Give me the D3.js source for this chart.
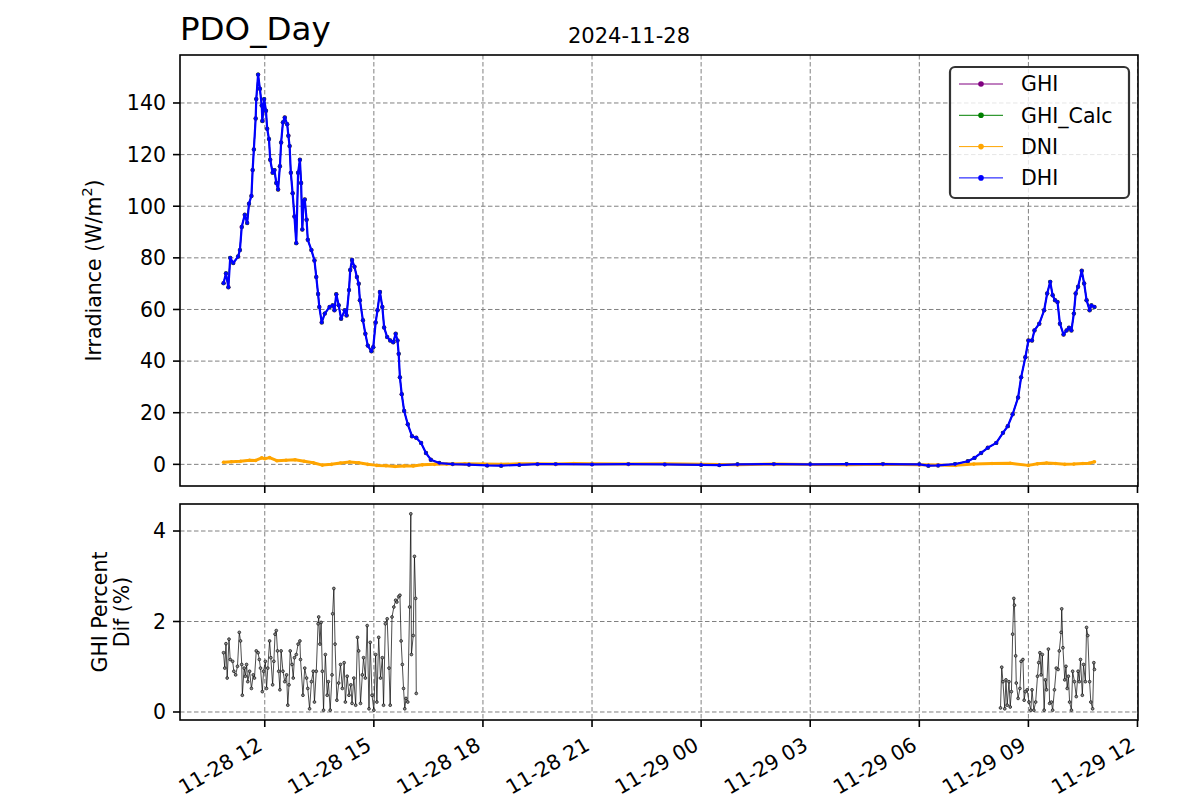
<!DOCTYPE html>
<html><head><meta charset="utf-8">
<script src="https://cdn.jsdelivr.net/npm/d3@7"></script>
<style>body{margin:0;background:#fff}svg{font-family:"DejaVu Sans",sans-serif}</style>
</head><body>
<svg id="chart" width="1200" height="800"></svg>
<script>
// ---------- DATA ----------
const chartTitle = "PDO_Day";
const chartSubtitle = "2024-11-28";
const seriesNames = ["GHI", "GHI_Calc", "DNI", "DHI"];
const topTicks = [0, 20, 40, 60, 80, 100, 120, 140];
const bottomTicks = [0, 2, 4];

// times are "day HH:MM" within 2024-11
const ghiTimes = ["28 10:52","28 10:56","28 11:00","28 11:03","28 11:08","28 11:16","28 11:19","28 11:22","28 11:27","28 11:31","28 11:34","28 11:38","28 11:40","28 11:42","28 11:45","28 11:46","28 11:49","28 11:52","28 11:55","28 11:56","28 11:59","28 12:02","28 12:04","28 12:07","28 12:09","28 12:13","28 12:16","28 12:19","28 12:22","28 12:25","28 12:27","28 12:30","28 12:33","28 12:37","28 12:39","28 12:41","28 12:43","28 12:46","28 12:49","28 12:52","28 12:55","28 12:58","28 13:00","28 13:02","28 13:04","28 13:06","28 13:09","28 13:11","28 13:17","28 13:22","28 13:25","28 13:28","28 13:30","28 13:34","28 13:39","28 13:47","28 13:52","28 13:55","28 13:58","28 14:02","28 14:06","28 14:12","28 14:15","28 14:19","28 14:21","28 14:24","28 14:28","28 14:32","28 14:35","28 14:37","28 14:42","28 14:46","28 14:50","28 14:56","28 14:59","28 15:03","28 15:06","28 15:10","28 15:14","28 15:17","28 15:22","28 15:27","28 15:32","28 15:36","28 15:39","28 15:41","28 15:43","28 15:46","28 15:50","28 15:56","28 16:03","28 16:10","28 16:18","28 16:26","28 16:34","28 16:48","28 17:10","28 17:37","28 18:07","28 18:30","28 19:00","28 19:30","28 20:00","28 21:00","28 22:00","28 23:00","29 00:00","29 00:30","29 01:00","29 02:00","29 03:00","29 04:00","29 05:00","29 06:00","29 06:15","29 06:31","29 06:59","29 07:20","29 07:31","29 07:42","29 07:53","29 08:07","29 08:18","29 08:26","29 08:34","29 08:43","29 08:48","29 08:55","29 09:00","29 09:06","29 09:10","29 09:18","29 09:26","29 09:31","29 09:36","29 09:40","29 09:44","29 09:48","29 09:52","29 09:58","29 10:03","29 10:07","29 10:11","29 10:15","29 10:18","29 10:22","29 10:28","29 10:32","29 10:36","29 10:41","29 10:44","29 10:49"];
const ghiValues = [70.2,74,68.6,80,78,80.5,83,92,96.7,93.5,101,104,114,122,134,141.5,151,145.5,139,133,141.5,137,130,126,118,113,114,109,106.5,115.5,124.7,132.5,134.4,131.8,127.3,123.3,113,105,96,85.7,113,118,109,91,102,102.6,94.8,87,83,79,72.6,66,61,55,58.4,61,61.6,59.7,65.9,61.6,56.4,59.7,57.7,67.5,75.3,79.2,76.6,72.6,70,63.6,55.8,50.6,46,43.8,45.4,55,59.7,66.8,61,53,49.3,48,47.3,50.6,48,42.8,33.7,27.2,20.7,15.5,10.9,10.3,8.3,4.4,1.8,0.5,0.1,-0.1,-0.4,-0.5,-0.2,0.1,0.1,0,0.1,0,-0.2,-0.3,0,0.1,0,0.1,0.1,0,-0.5,-0.4,0.1,1.2,2.5,4.4,6.4,8.3,12.2,14.8,19.4,25.9,33.7,41.5,48,48,51.9,54.5,59.7,66.2,70.7,65.5,63.6,62.9,54.5,50.3,51.9,52.9,51.9,58.4,66.2,68.8,75,70.1,63.6,59.7,61.6,61];
// GHI_Calc and DHI are indistinguishable from GHI at this scale
const ghiCalcValues = ghiValues;
const dhiValues = ghiValues;

const dniTimes = ["28 10:52","28 11:05","28 11:20","28 11:35","28 11:45","28 11:55","28 12:00","28 12:08","28 12:20","28 12:35","28 12:50","28 13:05","28 13:20","28 13:35","28 13:50","28 14:05","28 14:20","28 14:35","28 14:50","28 15:05","28 15:20","28 15:35","28 15:50","28 16:05","28 16:20","28 16:40","28 17:00","28 17:30","28 18:00","28 18:30","28 19:00","28 19:30","28 20:00","28 20:30","28 21:00","28 22:00","28 23:00","29 00:00","29 01:00","29 02:00","29 03:00","29 04:00","29 05:00","29 06:00","29 06:30","29 07:00","29 07:30","29 08:00","29 08:30","29 09:00","29 09:15","29 09:30","29 09:45","29 10:00","29 10:15","29 10:30","29 10:40","29 10:49"];
const dniValues = [0.8,1.0,1.2,1.6,1.5,2.5,2.2,2.6,1.4,1.6,1.8,1.2,0.6,-0.3,0.0,0.5,0.9,0.6,0.0,-0.4,-0.5,-0.8,-0.6,-0.6,-0.2,0.0,0.1,0.2,0.1,0.0,0.2,0.2,0.1,0.3,0.2,0.1,0.2,0.0,-0.2,0.1,-0.1,-0.2,0.0,-0.2,-0.3,-0.4,0.1,0.3,0.4,-0.4,0.2,0.5,0.3,0.0,0.1,0.3,0.4,1.0];

const pctPmTimes = ["28 10:52","28 10:54","28 10:56","28 10:58","28 11:01","28 11:03","28 11:07","28 11:09","28 11:12","28 11:15","28 11:18","28 11:20","28 11:22","28 11:23","28 11:26","28 11:28","28 11:30","28 11:32","28 11:35","28 11:38","28 11:41","28 11:43","28 11:46","28 11:49","28 11:51","28 11:53","28 11:56","28 11:58","28 12:01","28 12:03","28 12:05","28 12:08","28 12:10","28 12:13","28 12:15","28 12:17","28 12:19","28 12:21","28 12:23","28 12:25","28 12:27","28 12:30","28 12:33","28 12:36","28 12:38","28 12:40","28 12:42","28 12:45","28 12:47","28 12:49","28 12:52","28 12:55","28 12:58","28 12:59","28 13:03","28 13:06","28 13:09","28 13:11","28 13:14","28 13:17","28 13:20","28 13:22","28 13:25","28 13:28","28 13:29","28 13:31","28 13:33","28 13:35","28 13:37","28 13:40","28 13:43","28 13:45","28 13:48","28 13:51","28 13:52","28 13:54","28 13:56","28 13:59","28 14:02","28 14:05","28 14:08","28 14:11","28 14:13","28 14:16","28 14:19","28 14:22","28 14:24","28 14:27","28 14:30","28 14:33","28 14:35","28 14:38","28 14:41","28 14:43","28 14:46","28 14:49","28 14:52","28 14:54","28 14:57","28 15:00","28 15:03","28 15:05","28 15:08","28 15:11","28 15:14","28 15:16","28 15:19","28 15:22","28 15:25","28 15:27","28 15:30","28 15:33","28 15:36","28 15:38","28 15:41","28 15:43","28 15:45","28 15:47","28 15:49","28 15:51","28 15:53","28 15:56","28 15:59","28 16:01","28 16:02","28 16:05","28 16:07","28 16:09","28 16:10"];
const pctPmValues = [1.31,0.97,1.51,0.75,1.61,1.16,1.12,0.9,0.82,1.01,1.76,1.57,1.05,0.37,0.97,0.79,1.05,0.67,0.9,0.52,0.82,0.75,1.35,1.31,1.16,0.97,0.45,0.9,1.12,0.52,0.97,1.57,1.2,0.6,1.12,1.72,1.8,1.35,0.9,0.49,1.35,0.9,0.67,0.82,0.15,0.6,1.35,1.05,0.75,1.2,1.27,1.5,1.57,1.16,0.37,0.97,0.75,0.52,0.07,0.67,0.9,0.22,0.9,1.95,2.1,1.5,1.98,0.9,0.04,1.27,0.37,0.67,0.04,0.82,2.17,2.73,1.5,0.26,0.64,1.05,0.52,1.09,0.22,0.79,0.37,0.6,0.19,0.75,0.15,1.65,1.35,0.19,0.82,1.2,0.75,1.91,0.07,1.54,0.37,0.04,1.27,0.22,1.65,0.75,1.2,0.15,1.95,2.06,0.97,0.15,2.1,2.32,2.47,2.43,2.55,2.58,1.57,1.05,0.52,0.07,0.3,0.22,2.32,4.38,1.27,1.69,3.44,2.51,0.41];

const pctAmTimes = ["29 08:14","29 08:16","29 08:18","29 08:21","29 08:23","29 08:25","29 08:28","29 08:30","29 08:32","29 08:34","29 08:36","29 08:37","29 08:39","29 08:40","29 08:43","29 08:46","29 08:48","29 08:51","29 08:53","29 08:55","29 08:58","29 09:01","29 09:04","29 09:06","29 09:09","29 09:12","29 09:15","29 09:17","29 09:19","29 09:21","29 09:23","29 09:26","29 09:28","29 09:30","29 09:33","29 09:35","29 09:38","29 09:40","29 09:43","29 09:46","29 09:49","29 09:51","29 09:54","29 09:55","29 09:57","29 10:00","29 10:02","29 10:04","29 10:06","29 10:08","29 10:11","29 10:13","29 10:16","29 10:19","29 10:22","29 10:24","29 10:26","29 10:29","29 10:31","29 10:34","29 10:36","29 10:38","29 10:41","29 10:43","29 10:46","29 10:48","29 10:49"];
const pctAmValues = [0.09,0.99,0.67,0.07,0.71,0.15,0.67,0.11,0.45,1.72,2.51,2.36,1.24,0.64,0.3,0.52,1.12,1.16,0.26,0.45,0.49,0.22,0.04,0.49,0.04,0.22,0.79,1.09,1.31,0.82,1.27,0.04,0.71,0.49,1.39,0.19,0.22,0.04,0.49,0.97,0.94,1.35,1.76,2.28,1.42,0.71,1.01,0.52,0.79,0.22,0.04,0.9,0.67,0.34,0.9,0.67,1.16,0.37,1.05,0.67,1.87,1.69,0.67,0.22,0.07,1.09,0.94];

// ---------- STYLE ----------
const colors = {GHI:"#800080", GHI_Calc:"#008000", DNI:"#ffa500", DHI:"#0000ff"};
const FONT = 20.5;
const boxTop = {l:180, r:1138, t:55, b:486};
const boxBot = {l:180, r:1138, t:504, b:720};

const parse = d3.utcParse("%Y-%m-%d %H:%M");
const mk = (times, vals) => times.map((t, i) => ({t: parse("2024-11-" + t), v: vals[i]}));
const ghi = mk(ghiTimes, ghiValues), ghiCalc = mk(ghiTimes, ghiCalcValues),
      dhi = mk(ghiTimes, dhiValues), dni = mk(dniTimes, dniValues);
const pctPm = mk(pctPmTimes, pctPmValues), pctAm = mk(pctAmTimes, pctAmValues);

function padded(ext, f = 0.05) { const d = ext[1] - ext[0]; return [ext[0] - d * f, ext[1] + d * f]; }
const tExt = d3.extent(ghi.concat(dni), d => d.t);
const tPad = (tExt[1] - tExt[0]) * 0.05;
const x = d3.scaleUtc().domain([new Date(+tExt[0] - tPad), new Date(+tExt[1] + tPad)]).range([boxTop.l, boxTop.r]);
const yT = d3.scaleLinear().domain(padded(d3.extent(ghi.concat(dni, dhi, ghiCalc), d => d.v))).range([boxTop.b, boxTop.t]);
const yB = d3.scaleLinear().domain(padded(d3.extent(pctPm.concat(pctAm), d => d.v))).range([boxBot.b, boxBot.t]);

const svg = d3.select("#chart");
svg.append("rect").attr("width", 1200).attr("height", 800).attr("fill", "#fff");

const xTicks = x.ticks(d3.utcHour.every(3));
const fmt = d3.utcFormat("%m-%d %H");

function grid(box, y, yticks, id) {
  const g = svg.append("g");
  g.selectAll(".gx").data(xTicks.filter(t => x(t) >= box.l && x(t) <= box.r)).join("line")
    .attr("x1", d => x(d)).attr("x2", d => x(d)).attr("y1", box.t).attr("y2", box.b);
  g.selectAll(".gy").data(yticks).join("line")
    .attr("x1", box.l).attr("x2", box.r).attr("y1", d => y(d)).attr("y2", d => y(d));
  g.selectAll("line").attr("stroke", "#808080").attr("stroke-width", 1).attr("stroke-dasharray", "4.5,2.5");
  svg.append("clipPath").attr("id", id).append("rect")
    .attr("x", box.l).attr("y", box.t).attr("width", box.r - box.l).attr("height", box.b - box.t);
}
grid(boxTop, yT, topTicks, "clipTop");
grid(boxBot, yB, bottomTicks, "clipBot");

function drawSeries(data, y, color, lw, r, clip, fill, stroke) {
  const g = svg.append("g").attr("clip-path", `url(#${clip})`);
  g.append("path").datum(data)
    .attr("d", d3.line().x(d => x(d.t)).y(d => y(d.v)))
    .attr("fill", "none").attr("stroke", color).attr("stroke-width", lw).attr("stroke-linejoin", "round");
  g.selectAll("circle").data(data).join("circle")
    .attr("cx", d => x(d.t)).attr("cy", d => y(d.v)).attr("r", r)
    .attr("fill", fill || color).attr("stroke", stroke || "none").attr("stroke-width", 0.7);
}
drawSeries(ghi, yT, colors.GHI, 1.2, 2.2, "clipTop");
drawSeries(ghiCalc, yT, colors.GHI_Calc, 1.2, 2.0, "clipTop");
drawSeries(dni, yT, colors.DNI, 3.0, 1.8, "clipTop");
drawSeries(dhi, yT, colors.DHI, 2.2, 1.8, "clipTop");
drawSeries(pctPm, yB, "#000", 0.7, 1.4, "clipBot", "#8a8a8a", "#111");
drawSeries(pctAm, yB, "#000", 0.7, 1.4, "clipBot", "#8a8a8a", "#111");

function frame(box, y, yticks, showX) {
  const g = svg.append("g");
  g.append("rect").attr("x", box.l).attr("y", box.t).attr("width", box.r - box.l).attr("height", box.b - box.t)
    .attr("fill", "none").attr("stroke", "#000").attr("stroke-width", 1.6);
  g.selectAll(".ty").data(yticks).join("line")
    .attr("x1", box.l - 7).attr("x2", box.l).attr("y1", d => y(d)).attr("y2", d => y(d))
    .attr("stroke", "#000").attr("stroke-width", 1.6);
  g.selectAll(".tyl").data(yticks).join("text")
    .attr("x", box.l - 14).attr("y", d => y(d)).attr("dy", "0.36em")
    .attr("text-anchor", "end").attr("font-size", FONT).text(d => d);
  g.selectAll(".tx").data(xTicks).join("line")
    .attr("x1", d => x(d)).attr("x2", d => x(d)).attr("y1", box.b).attr("y2", box.b + 7)
    .attr("stroke", "#000").attr("stroke-width", 1.6);
  if (showX) {
    g.selectAll(".txl").data(xTicks).join("text")
      .attr("transform", d => `translate(${x(d) - 1},${box.b + 29}) rotate(-30)`)
      .attr("text-anchor", "end").attr("font-size", FONT).text(d => fmt(d));
  }
}
frame(boxTop, yT, topTicks, false);
frame(boxBot, yB, bottomTicks, true);

// titles
svg.append("text").attr("x", 180).attr("y", 40).attr("font-size", 32.5).text(chartTitle);
svg.append("text").attr("x", 629).attr("y", 43).attr("text-anchor", "middle").attr("font-size", 21).text(chartSubtitle);

// y labels
const yl = svg.append("text").attr("transform", `translate(101,${(boxTop.t + boxTop.b) / 2}) rotate(-90)`)
  .attr("text-anchor", "middle").attr("font-size", FONT);
yl.append("tspan").text("Irradiance (W/m");
yl.append("tspan").attr("font-size", FONT * 0.7).attr("dy", -9).text("2");
yl.append("tspan").attr("dy", 9).text(")");
const yl2 = svg.append("text").attr("transform", `translate(107,${(boxBot.t + boxBot.b) / 2}) rotate(-90)`)
  .attr("text-anchor", "middle").attr("font-size", FONT);
yl2.append("tspan").attr("x", 0).attr("dy", 0).text("GHI Percent");
yl2.append("tspan").attr("x", 0).attr("dy", 21.5).text("Dif (%)");

// legend
const lg = svg.append("g");
lg.append("rect").attr("x", 950).attr("y", 67).attr("width", 179).attr("height", 131).attr("rx", 5)
  .attr("fill", "#fff").attr("fill-opacity", 0.8).attr("stroke", "#333").attr("stroke-width", 2.2);
seriesNames.forEach((name, i) => {
  const cy = 84 + i * 31.3;
  lg.append("line").attr("x1", 959).attr("x2", 1003).attr("y1", cy).attr("y2", cy)
    .attr("stroke", colors[name]).attr("stroke-width", 1);
  lg.append("circle").attr("cx", 981).attr("cy", cy).attr("r", 2.8).attr("fill", colors[name]);
  lg.append("text").attr("x", 1021).attr("y", cy).attr("dy", "0.36em").attr("font-size", FONT).text(name);
});
</script>
</body></html>
